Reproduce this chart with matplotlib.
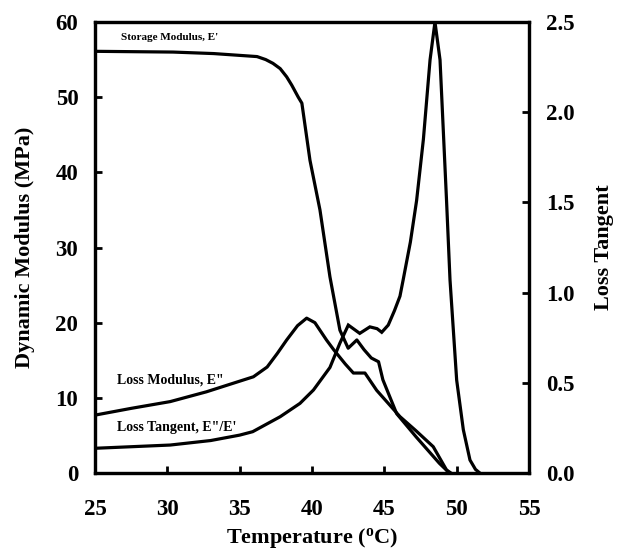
import matplotlib
matplotlib.use("Agg")
import matplotlib.pyplot as plt

plt.rcParams['font.family'] = ['Liberation Serif', 'DejaVu Serif']
plt.rcParams['font.weight'] = 'bold'
plt.rcParams['mathtext.fontset'] = 'custom'
plt.rcParams['mathtext.rm'] = 'Liberation Serif:bold'
plt.rcParams['mathtext.bf'] = 'Liberation Serif:bold'
plt.rcParams['mathtext.it'] = 'Liberation Serif:bold'

# Storage modulus E' (MPa)
t_storage = [25, 30.4, 33.2, 36.2, 36.8, 37.3, 37.8, 38.25, 38.6, 39.05, 39.3, 39.86, 40.55,
             41.24, 41.93, 42.5, 43.1, 43.6, 44.1, 44.6, 44.9, 45.85, 47.2, 48.8, 49.5]
e_storage = [56.1, 56.0, 55.8, 55.4, 55.0, 54.5, 53.8, 52.7, 51.6, 50.0, 49.2, 41.6, 35.0,
             26.1, 19.0, 16.6, 17.7, 16.4, 15.3, 14.8, 12.4, 7.9, 4.8, 1.3, 0.0]

# Loss modulus E'' (MPa)
t_loss = [25.0, 27.5, 30.2, 32.7, 35.95, 36.9, 37.6, 38.25, 39.0, 39.63, 40.2, 41.0, 41.5,
          42.3, 42.86, 43.66, 44.47, 45.3, 46.08, 47.2, 48.38, 49.3, 49.6]
e_loss = [7.7, 8.6, 9.5, 10.8, 12.8, 14.1, 15.9, 17.7, 19.6, 20.6, 20.0, 17.7, 16.4,
          14.5, 13.3, 13.3, 11.0, 9.2, 7.5, 5.6, 3.5, 0.4, 0.0]

# Loss tangent E''/E'
t_tan = [25.0, 30.2, 33.0, 35.0, 35.9, 37.8, 39.17, 40.1, 41.24, 41.93, 42.51, 43.3, 44.0,
         44.5, 44.82, 45.27, 45.7, 46.08, 46.3, 46.8, 47.23, 47.7, 48.16, 48.5, 48.85,
         49.3, 49.54, 50.0, 50.46, 50.92, 51.3, 51.6]
tan_d = [0.137, 0.155, 0.18, 0.21, 0.229, 0.312, 0.386, 0.46, 0.585, 0.72, 0.82, 0.774, 0.81,
         0.80, 0.78, 0.82, 0.90, 0.98, 1.07, 1.28, 1.51, 1.85, 2.29, 2.5, 2.29,
         1.51, 1.07, 0.515, 0.24, 0.072, 0.02, 0.0]

x_ticks = [25, 30, 35, 40, 45, 50, 55]
y_left_ticks = [0, 10, 20, 30, 40, 50, 60]
y_right_ticks = [0.0, 0.5, 1.0, 1.5, 2.0, 2.5]

fig = plt.figure(figsize=(6.17, 5.52), dpi=100)
ax = fig.add_axes([95/617, 1-473/552, (529-95)/617, (473-22)/552])
ax2 = ax.twinx()

lw = 2.3
ax.plot(t_storage, e_storage, color='black', lw=lw, solid_joinstyle='round')
ax.plot(t_loss, e_loss, color='black', lw=lw, solid_joinstyle='round')
ax2.plot(t_tan, tan_d, color='black', lw=lw, solid_joinstyle='miter')

ax.set_xlim(25, 55)
ax.set_ylim(0, 60)
ax2.set_ylim(0, 2.5)
ax.set_xticks(x_ticks)
ax.set_yticks(y_left_ticks)
ax2.set_yticks(y_right_ticks)
ax2.set_yticklabels([f"{v:.1f}" for v in y_right_ticks])

for a in (ax, ax2):
    for s in a.spines.values():
        s.set_linewidth(2.3)
fs = 16.5
ax.tick_params(axis='both', direction='in', length=5, width=2, labelsize=fs, top=False)
ax.tick_params(axis='x', pad=19)
ax.tick_params(axis='y', pad=12)
ax2.tick_params(axis='y', direction='in', length=5, width=2, labelsize=fs, pad=12)

ax.set_xlabel("Temperature ($^{\\mathbf{o}}$C)", fontsize=16, fontweight='bold', labelpad=4)
ax.set_ylabel("Dynamic Modulus (MPa)", fontsize=16, fontweight='bold', labelpad=15)
ax2.set_ylabel("Loss Tangent", fontsize=16, fontweight='bold', labelpad=14)

ax.text(26.8, 57.9, "Storage Modulus, E'", fontsize=8, fontweight='bold', va='center', ha='left')
ax.text(26.5, 12.4, 'Loss Modulus, E"', fontsize=10, fontweight='bold', va='center', ha='left')
ax.text(26.5, 6.0, 'Loss Tangent, E"/E\'', fontsize=10, fontweight='bold', va='center', ha='left')

fig.savefig("out.png", dpi=100)
